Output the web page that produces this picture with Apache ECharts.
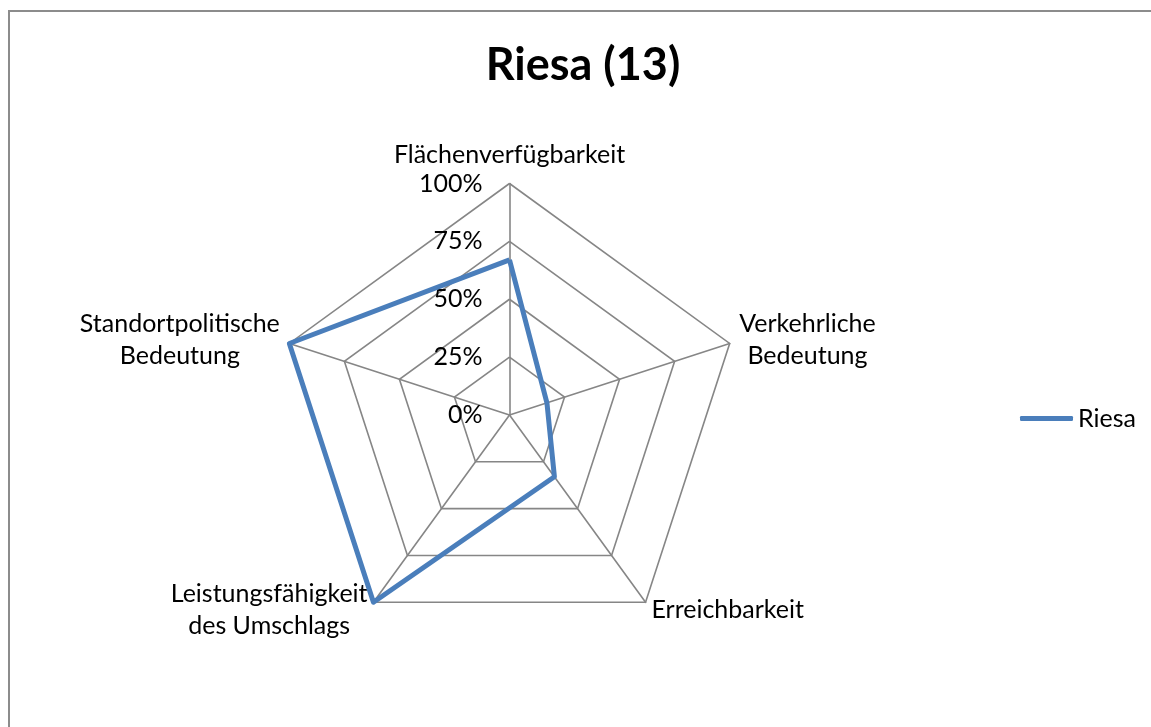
<!DOCTYPE html>
<html>
<head>
<meta charset="utf-8">
<script src="https://cdn.jsdelivr.net/npm/echarts@6/dist/echarts.min.js"></script>
<style>
  html, body { margin: 0; padding: 0; background: #fff; }
  #chart { width: 1151px; height: 727px; }
</style>
</head>
<body>
<div id="chart"></div>
<script>
// Axis names in clockwise order starting at the top
const categories = [
  'Flächenverfügbarkeit',
  'Verkehrliche\nBedeutung',
  'Erreichbarkeit',
  'Leistungsfähigkeit\ndes Umschlags',
  'Standortpolitische\nBedeutung'
];
// Scores (percent) for Riesa, same order as categories
const riesaValues = [67, 17, 33, 100, 100];
const seriesName = 'Riesa';
const chartTitle = 'Riesa (13)';
const scaleMax = 100;
const scaleSteps = 4;

const FONT = 'Lato, "Noto Sans", sans-serif';
const GRID = '#868686';
const BLUE = '#4a7ebb';

// ECharts lays radar indicators out counter-clockwise; reorder so they run clockwise
const order = [0].concat(categories.slice(1).map((_, i) => categories.length - 1 - i));
const indicators = order.map((idx, k) => {
  const ind = { name: categories[idx], min: 0, max: scaleMax };
  if (k === 0) ind.axisLabel = { show: true };
  return ind;
});
const values = order.map(idx => riesaValues[idx]);

const chart = echarts.init(document.getElementById('chart'), null, { renderer: 'canvas' });
chart.setOption({
  backgroundColor: '#fff',
  animation: false,
  title: {
    text: chartTitle,
    left: 578,
    top: 38,
    textAlign: 'center',
    textStyle: { fontFamily: FONT, fontSize: 45, fontWeight: 'bold', color: '#000' }
  },
  legend: {
    data: [seriesName],
    left: 1015,
    top: 401,
    icon: 'roundRect',
    itemWidth: 53,
    itemHeight: 5,
    textStyle: { fontFamily: FONT, fontSize: 25, color: '#000' }
  },
  graphic: [{
    type: 'rect',
    shape: { x: 9, y: 11, width: 1200, height: 800 },
    style: { fill: 'none', stroke: '#8c8c8c', lineWidth: 2 },
    silent: true
  }],
  radar: {
    center: [509.5, 415],
    radius: 231.5,
    startAngle: 90,
    splitNumber: scaleSteps,
    shape: 'polygon',
    axisNameGap: 10,
    axisName: {
      color: '#000',
      fontFamily: FONT,
      fontSize: 25,
      lineHeight: 32,
      formatter: (name) => name.split('\n').map(l => '{c|' + l + '}').join('\n'),
      rich: { c: { align: 'center', fontFamily: FONT, fontSize: 25, lineHeight: 32, color: '#000' } }
    },
    axisLine: { show: true, lineStyle: { color: GRID, width: 1.6 } },
    splitLine: { show: true, lineStyle: { color: GRID, width: 1.6 } },
    splitArea: { show: false },
    axisTick: { show: false },
    axisLabel: {
      show: false,
      margin: 27,
      color: '#000',
      fontFamily: FONT,
      fontSize: 25,
      formatter: (v) => v + '%'
    },
    indicator: indicators
  },
  series: [{
    name: seriesName,
    type: 'radar',
    symbol: 'none',
    lineStyle: { color: BLUE, width: 5, join: 'round' },
    itemStyle: { color: BLUE },
    data: [{ name: seriesName, value: values }]
  }]
});
</script>
</body>
</html>
